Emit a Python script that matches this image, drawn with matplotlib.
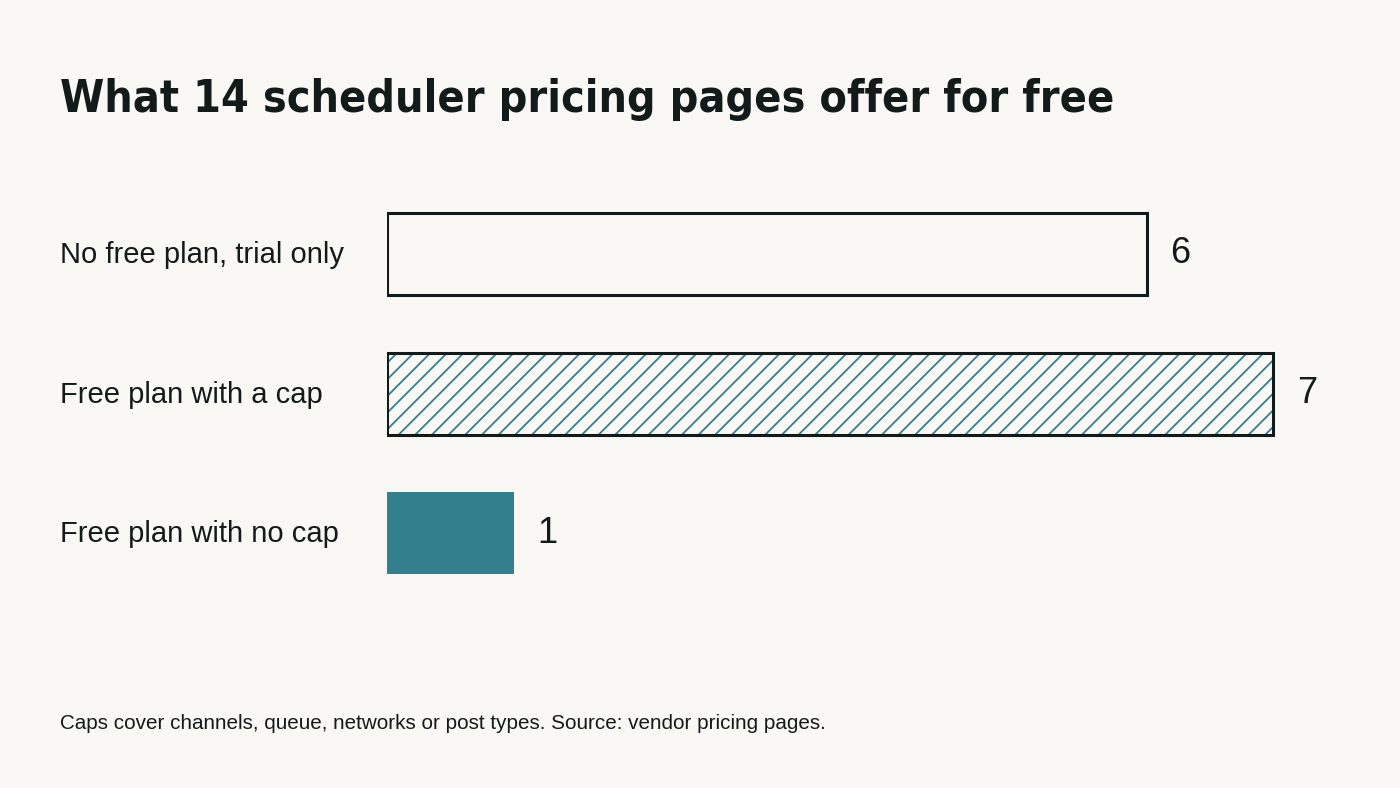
import matplotlib
matplotlib.use("Agg")
import matplotlib.pyplot as plt
from matplotlib import font_manager

categories = ["No free plan, trial only", "Free plan with a cap", "Free plan with no cap"]
values = [6, 7, 1]
title = "What 14 scheduler pricing pages offer for free"
footnote = "Caps cover channels, queue, networks or post types. Source: vendor pricing pages."

BG = "#f9f8f4"
INK = "#121a1a"
TEAL = "#347f8e"

plt.rcParams["hatch.linewidth"] = 1.3
plt.rcParams["font.family"] = ["Liberation Sans", "DejaVu Sans"]

# look for a condensed / narrow bold face for the title
title_font = None
cands = []
for f in font_manager.fontManager.ttflist:
    nm = (f.name + " " + f.fname).lower()
    cond = ("condensed" in nm or "narrow" in nm or
            str(f.stretch).lower() in ("condensed", "semi-condensed", "extra-condensed")
            or (isinstance(f.stretch, int) and f.stretch < 500))
    wt = f.weight if isinstance(f.weight, int) else {"bold": 700, "semibold": 600}.get(str(f.weight).lower(), 400)
    if cond and wt >= 600:
        cands.append((f.fname, f.name))
if cands:
    cands.sort()
    title_font = font_manager.FontProperties(fname=cands[0][0])

W, H, DPI = 1400, 788, 100
fig = plt.figure(figsize=(W / DPI, H / DPI), dpi=DPI, facecolor=BG)

px_per_unit = 126.6
x0 = 387
xmax = 8
row_px = 139.75
top_px = 254 - 0.5 * row_px
bot_px = 533.5 + 0.5 * row_px
ax = fig.add_axes([x0 / W, 1 - bot_px / H, xmax * px_per_unit / W, (bot_px - top_px) / H])
ax.set_facecolor("none")
ax.set_xlim(0, xmax)
ax.set_ylim(2.5, -0.5)
ax.axis("off")

ypos = list(range(len(categories)))
bh = 82 / row_px

ax.barh(ypos[0], values[0], height=bh, facecolor="none", edgecolor=INK, linewidth=2.2)
ax.barh(ypos[1], values[1], height=bh, facecolor="none", edgecolor=TEAL, linewidth=0, hatch="//")
ax.barh(ypos[1], values[1], height=bh, facecolor="none", edgecolor=INK, linewidth=2.2)
ax.barh(ypos[2], values[2], height=bh, facecolor=TEAL, edgecolor="none", linewidth=0)

for y, v, lab in zip(ypos, values, categories):
    ax.annotate(str(v), xy=(v, y), xytext=(17, 0), textcoords="offset points",
                ha="left", va="center", fontsize=26, color=INK)
    fig.text(60 / W, 1 - (255 + y * row_px) / H, lab, ha="left", va="center",
             fontsize=21, color=INK)

if title_font is not None:
    t = fig.text(60 / W, 1 - 112 / H, title, ha="left", va="baseline",
                 fontproperties=title_font, fontsize=40, color=INK)
else:
    t = fig.text(60 / W, 1 - 112 / H, title, ha="left", va="baseline",
                 fontsize=40, fontweight="bold", color=INK)
r = fig.canvas.get_renderer()
wpx = t.get_window_extent(r).width
t.set_fontsize(40 * 1052 / wpx)

fig.text(60 / W, 1 - 729 / H, footnote, ha="left", va="baseline",
         fontsize=14.9, color=INK)

fig.savefig("out.png", dpi=DPI, facecolor=BG)
